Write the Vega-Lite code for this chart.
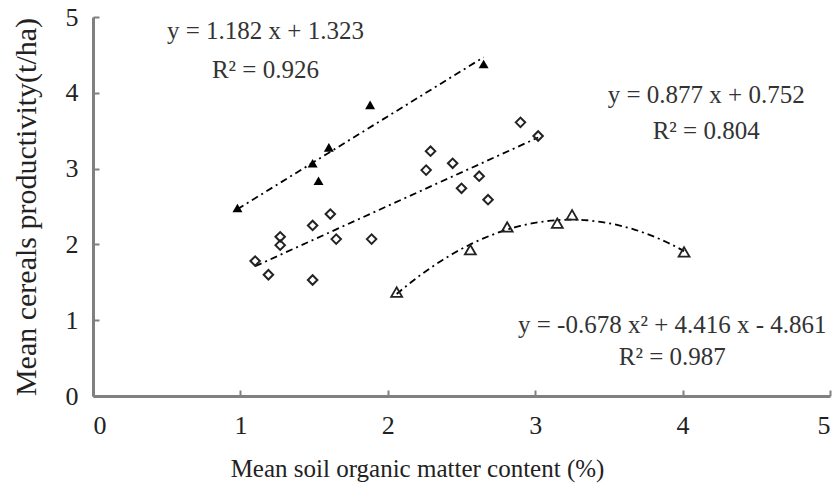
{
  "$schema": "https://vega.github.io/schema/vega-lite/v6.json",
  "width": 737,
  "height": 379,
  "autosize": {"type": "none"},
  "padding": {"left": 93, "top": 17, "right": 7, "bottom": 89},
  "background": "white",
  "config": {
    "view": {"stroke": null},
    "font": "Liberation Serif",
    "axis": {
      "grid": false,
      "domainColor": "#808080",
      "domainWidth": 3,
      "tickColor": "#808080",
      "tickWidth": 2,
      "tickSize": -6,
      "labelFont": "Liberation Serif",
      "labelFontSize": 26,
      "labelColor": "#222",
      "titleFont": "Liberation Serif",
      "titleFontWeight": "normal",
      "titleColor": "#222"
    }
  },
  "datasets": {
    "pts": [
      {"series": "A", "x": 0.98, "y": 2.48},
      {"series": "A", "x": 1.49, "y": 3.07},
      {"series": "A", "x": 1.53, "y": 2.84},
      {"series": "A", "x": 1.60, "y": 3.28},
      {"series": "A", "x": 1.88, "y": 3.84},
      {"series": "A", "x": 2.65, "y": 4.38},
      {"series": "B", "x": 1.10, "y": 1.78},
      {"series": "B", "x": 1.19, "y": 1.60},
      {"series": "B", "x": 1.27, "y": 2.10},
      {"series": "B", "x": 1.27, "y": 1.99},
      {"series": "B", "x": 1.49, "y": 2.25},
      {"series": "B", "x": 1.49, "y": 1.53},
      {"series": "B", "x": 1.61, "y": 2.40},
      {"series": "B", "x": 1.65, "y": 2.07},
      {"series": "B", "x": 1.89, "y": 2.07},
      {"series": "B", "x": 2.26, "y": 2.98},
      {"series": "B", "x": 2.29, "y": 3.23},
      {"series": "B", "x": 2.44, "y": 3.07},
      {"series": "B", "x": 2.50, "y": 2.74},
      {"series": "B", "x": 2.62, "y": 2.90},
      {"series": "B", "x": 2.68, "y": 2.59},
      {"series": "B", "x": 2.90, "y": 3.61},
      {"series": "B", "x": 3.02, "y": 3.43},
      {"series": "C", "x": 2.06, "y": 1.37},
      {"series": "C", "x": 2.56, "y": 1.93},
      {"series": "C", "x": 2.81, "y": 2.23},
      {"series": "C", "x": 3.15, "y": 2.28},
      {"series": "C", "x": 3.25, "y": 2.39},
      {"series": "C", "x": 4.01, "y": 1.90}
    ],
    "labels": [
      {"x": 1.17, "y": 4.81, "t": "y = 1.182 x + 1.323"},
      {"x": 1.17, "y": 4.30, "t": "R² = 0.926"},
      {"x": 4.16, "y": 3.97, "t": "y = 0.877 x + 0.752"},
      {"x": 4.16, "y": 3.50, "t": "R² = 0.804"},
      {"x": 3.93, "y": 0.94, "t": "y = -0.678 x² + 4.416 x - 4.861"},
      {"x": 3.93, "y": 0.51, "t": "R² = 0.987"}
    ]
  },
  "layer": [
    {
      "data": {"name": "pts"},
      "transform": [
        {"filter": "datum.series !== 'C'"},
        {"regression": "y", "on": "x", "groupby": ["series"], "method": "linear"}
      ],
      "mark": {"type": "line", "color": "black", "strokeWidth": 1.8, "strokeDash": [7, 4, 2, 4]},
      "encoding": {
        "x": {"field": "x", "type": "quantitative", "scale": {"domain": [0, 5]}, "axis": {"values": [0, 1, 2, 3, 4, 5], "format": "d", "labelPadding": 22, "title": "Mean soil organic matter content (%)", "titleFontSize": 25, "titleX": 324, "titleY": 72, "titleAlign": "center", "titleBaseline": "middle"}},
        "y": {"field": "y", "type": "quantitative", "scale": {"domain": [0, 5]}, "axis": {"values": [0, 1, 2, 3, 4, 5], "format": "d", "labelPadding": 21, "title": "Mean cereals productivity(t/ha)", "titleFontSize": 30, "titlePadding": 24}},
        "detail": {"field": "series"}
      }
    },
    {
      "data": {"name": "pts"},
      "transform": [
        {"filter": "datum.series === 'C'"},
        {"regression": "y", "on": "x", "method": "poly", "order": 2}
      ],
      "mark": {"type": "line", "color": "black", "strokeWidth": 1.8, "strokeDash": [7, 4, 2, 4]},
      "encoding": {
        "x": {"field": "x", "type": "quantitative"},
        "y": {"field": "y", "type": "quantitative"}
      }
    },
    {
      "data": {"name": "pts"},
      "transform": [{"filter": "datum.series === 'A'"}],
      "mark": {"type": "point", "shape": "triangle-up", "filled": true, "color": "black", "size": 100, "opacity": 1},
      "encoding": {
        "x": {"field": "x", "type": "quantitative"},
        "y": {"field": "y", "type": "quantitative"}
      }
    },
    {
      "data": {"name": "pts"},
      "transform": [{"filter": "datum.series === 'B'"}],
      "mark": {"type": "point", "shape": "diamond", "filled": false, "color": "#222", "size": 90, "strokeWidth": 2, "opacity": 1},
      "encoding": {
        "x": {"field": "x", "type": "quantitative"},
        "y": {"field": "y", "type": "quantitative"}
      }
    },
    {
      "data": {"name": "pts"},
      "transform": [{"filter": "datum.series === 'C'"}],
      "mark": {"type": "point", "shape": "triangle-up", "filled": false, "color": "#222", "size": 120, "strokeWidth": 1.8, "opacity": 1},
      "encoding": {
        "x": {"field": "x", "type": "quantitative"},
        "y": {"field": "y", "type": "quantitative"}
      }
    },
    {
      "data": {"name": "labels"},
      "mark": {"type": "text", "font": "Liberation Serif", "fontSize": 25, "color": "#333", "align": "center", "baseline": "middle"},
      "encoding": {
        "x": {"field": "x", "type": "quantitative"},
        "y": {"field": "y", "type": "quantitative"},
        "text": {"field": "t"}
      }
    }
  ]
}
